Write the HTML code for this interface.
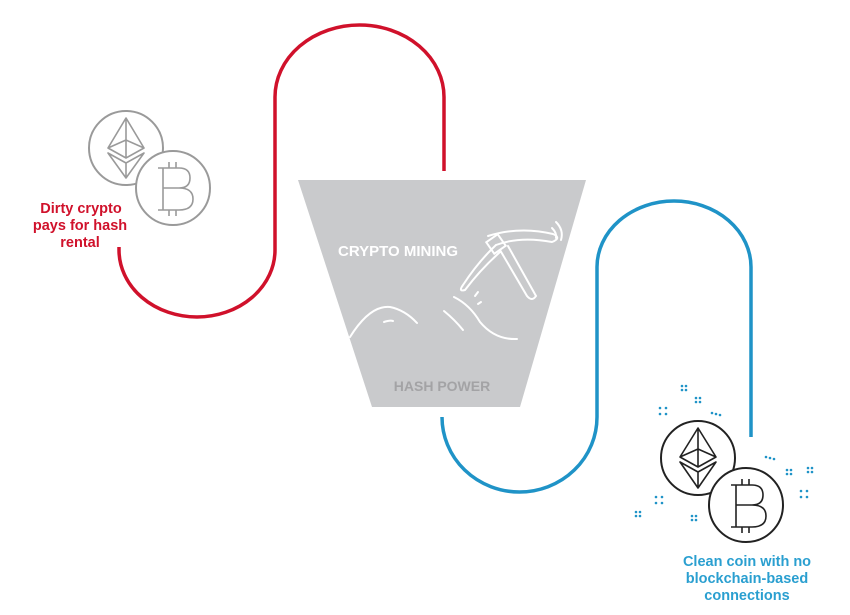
<!DOCTYPE html>
<html><head><style>
html,body{margin:0;padding:0;background:#fff;}
svg{display:block}
text{font-family:"Liberation Sans",sans-serif;font-weight:bold}
</style></head><body>
<svg width="850" height="615" viewBox="0 0 850 615" xmlns="http://www.w3.org/2000/svg">
<!-- red path -->
<path d="M119 247 L119 250 A78 67 0 0 0 275 250 L275 97 A84.5 72 0 0 1 444 97 L444 171" fill="none" stroke="#d0112b" stroke-width="3.5"/>
<!-- blue path -->
<path d="M442 417 A77.5 75 0 0 0 597 417 L597 267 A77 66 0 0 1 751 267 L751 437" fill="none" stroke="#1f93c7" stroke-width="3.5"/>
<!-- funnel -->
<polygon points="298,180 586,180 520,407 372,407" fill="#c9cacc"/>
<text x="398" y="256" font-size="15" fill="#fff" text-anchor="middle">CRYPTO MINING</text>
<text x="442" y="391" font-size="14" fill="#a3a3a5" text-anchor="middle">HASH POWER</text>
<!-- pickaxe & hills -->
<g fill="none" stroke="#fff" stroke-width="2" stroke-linecap="round">
<path d="M488 236 Q520 226 553 234 Q562 238 552 242 Q520 236 496 245"/>
<path d="M496 245 Q478 262 463 285 Q458 292 465 290 Q480 270 500 252"/>
<rect x="489" y="237" width="14" height="14" transform="rotate(-35 496 244)"/>
<path d="M500 250 L527 296 Q532 302 536 296 L508 246"/>
<path d="M556 222 Q564 230 561 240"/><path d="M552 228 Q557 233 556 238"/>
<path d="M350 337 Q370 305 390 307 Q405 310 417 323"/>
<path d="M384 322 Q390 320 393 321"/>
<path d="M444 311 Q455 320 463 330"/>
<path d="M454 297 Q470 305 480 322 Q495 340 517 339"/>
<path d="M475 296 L478 292"/><path d="M478 304 L481 302"/>
</g>
<!-- left coins -->
<g fill="#fff" stroke="#9a9a9a" stroke-width="2">
<circle cx="126" cy="148" r="37"/>
<circle cx="173" cy="188" r="37"/>
</g>
<g fill="none" stroke="#9a9a9a" stroke-width="1.6" stroke-linejoin="round">
<path d="M126 118 L108 148 L126 158 L144 148 Z M108 148 L126 140 L144 148 M126 118 L126 158"/>
<path d="M108 153 L126 178 L144 153 L126 163 Z M126 163 L126 178"/>
<path d="M163 168 L163 210 M163 168 L179 168 Q190 168 190 178 Q190 188 179 188 L163 188 M179 188 Q193 188 193 199 Q193 210 179 210 L158 210 M158 168 L163 168 M169 162 L169 168 M176 162 L176 168 M169 210 L169 216 M176 210 L176 216"/>
</g>
<text font-size="14.5" fill="#d0112b" text-anchor="middle"><tspan x="81" y="213">Dirty crypto</tspan><tspan x="80" y="230">pays for hash</tspan><tspan x="80" y="247">rental</tspan></text>
<!-- right coins -->
<g fill="#fff" stroke="#222" stroke-width="2">
<circle cx="698" cy="458" r="37"/>
<circle cx="746" cy="505" r="37"/>
</g>
<g fill="none" stroke="#222" stroke-width="1.6" stroke-linejoin="round">
<path d="M698 428 L680 457 L698 467 L716 457 Z M680 457 L698 449 L716 457 M698 428 L698 467"/>
<path d="M680 462 L698 488 L716 462 L698 472 Z M698 472 L698 488"/>
<path d="M736 485 L736 527 M736 485 L752 485 Q763 485 763 495 Q763 505 752 505 L736 505 M752 505 Q766 505 766 516 Q766 527 752 527 L731 527 M731 485 L736 485 M742 479 L742 485 M749 479 L749 485 M742 527 L742 533 M749 527 L749 533"/>
</g>
<!-- sparkles -->
<g fill="#1f93c7">
<g transform="translate(684,388)"><circle cx="-2" cy="-2" r="1.3"/><circle cx="2" cy="-2" r="1.3"/><circle cx="-2" cy="2" r="1.3"/><circle cx="2" cy="2" r="1.3"/></g>
<g transform="translate(698,400)"><circle cx="-2" cy="-2" r="1.3"/><circle cx="2" cy="-2" r="1.3"/><circle cx="-2" cy="2" r="1.3"/><circle cx="2" cy="2" r="1.3"/></g>
<g transform="translate(663,411)"><circle cx="-3" cy="-3" r="1.3"/><circle cx="3" cy="-3" r="1.3"/><circle cx="-3" cy="3" r="1.3"/><circle cx="3" cy="3" r="1.3"/></g>
<g transform="translate(715,413)"><circle cx="-3" cy="0" r="1.3"/><circle cx="1" cy="1" r="1.3"/><circle cx="5" cy="2" r="1.3"/></g>
<g transform="translate(769,457)"><circle cx="-3" cy="0" r="1.3"/><circle cx="1" cy="1" r="1.3"/><circle cx="5" cy="2" r="1.3"/></g>
<g transform="translate(789,472)"><circle cx="-2" cy="-2" r="1.3"/><circle cx="2" cy="-2" r="1.3"/><circle cx="-2" cy="2" r="1.3"/><circle cx="2" cy="2" r="1.3"/></g>
<g transform="translate(810,470)"><circle cx="-2" cy="-2" r="1.3"/><circle cx="2" cy="-2" r="1.3"/><circle cx="-2" cy="2" r="1.3"/><circle cx="2" cy="2" r="1.3"/></g>
<g transform="translate(804,494)"><circle cx="-3" cy="-3" r="1.3"/><circle cx="3" cy="-3" r="1.3"/><circle cx="-3" cy="3" r="1.3"/><circle cx="3" cy="3" r="1.3"/></g>
<g transform="translate(659,500)"><circle cx="-3" cy="-3" r="1.3"/><circle cx="3" cy="-3" r="1.3"/><circle cx="-3" cy="3" r="1.3"/><circle cx="3" cy="3" r="1.3"/></g>
<g transform="translate(638,514)"><circle cx="-2" cy="-2" r="1.3"/><circle cx="2" cy="-2" r="1.3"/><circle cx="-2" cy="2" r="1.3"/><circle cx="2" cy="2" r="1.3"/></g>
<g transform="translate(694,518)"><circle cx="-2" cy="-2" r="1.3"/><circle cx="2" cy="-2" r="1.3"/><circle cx="-2" cy="2" r="1.3"/><circle cx="2" cy="2" r="1.3"/></g>
</g>
<text font-size="14.5" fill="#2a9fd0" text-anchor="middle"><tspan x="747" y="566">Clean coin with no</tspan><tspan x="747" y="583">blockchain-based</tspan><tspan x="747" y="600">connections</tspan></text>
</svg>
</body></html>
